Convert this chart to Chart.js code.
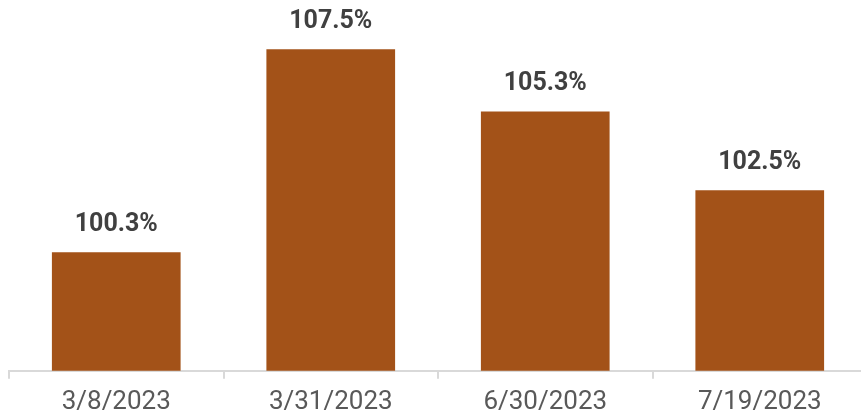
<!DOCTYPE html>
<html>
<head>
<meta charset="utf-8">
<script src="https://cdn.jsdelivr.net/npm/chart.js@4/dist/chart.umd.min.js"></script>
<style>
  html, body { margin: 0; padding: 0; background: #fff; overflow: hidden; }
  #wrap { width: 867px; height: 426px; }
</style>
</head>
<body>
<div id="wrap"><canvas id="ratioChart"></canvas></div>
<script>
// Values
const dates = ['3/8/2023', '3/31/2023', '6/30/2023', '7/19/2023'];
const ratios = [100.3, 107.5, 105.3, 102.5];

const barColor = '#A35218';
const axisColor = '#D9D9D9';

// Draws the percentage above each bar
const valueLabels = {
  id: 'valueLabels',
  afterDatasetsDraw(chart) {
    const ctx = chart.ctx;
    const meta = chart.getDatasetMeta(0);
    ctx.save();
    ctx.font = 'bold 25px Roboto';
    ctx.fillStyle = '#404040';
    ctx.textAlign = 'center';
    ctx.textBaseline = 'bottom';
    meta.data.forEach((bar, i) => {
      ctx.fillText(ratios[i].toFixed(1) + '%', bar.x, bar.y - 15);
    });
    ctx.restore();
  }
};

new Chart(document.getElementById('ratioChart'), {
  type: 'bar',
  data: {
    labels: dates,
    datasets: [{
      data: ratios,
      backgroundColor: barColor,
      barPercentage: 0.6,
      categoryPercentage: 1
    }]
  },
  options: {
    responsive: true,
    maintainAspectRatio: false,
    animation: false,
    layout: { padding: { left: 9, right: 0, top: 0, bottom: 0 } },
    plugins: {
      legend: { display: false },
      tooltip: { enabled: false }
    },
    scales: {
      x: {
        offset: true,
        grid: {
          offset: true,
          drawOnChartArea: false,
          drawTicks: true,
          tickLength: 8,
          color: axisColor,
          lineWidth: 2
        },
        border: { color: axisColor, width: 2 },
        ticks: {
          color: '#595959',
          font: { family: 'Roboto', size: 26 },
          padding: 8,
          maxRotation: 0
        }
      },
      y: {
        display: false,
        min: 96.1,
        max: 109.25
      }
    }
  },
  plugins: [valueLabels]
});
</script>
</body>
</html>
